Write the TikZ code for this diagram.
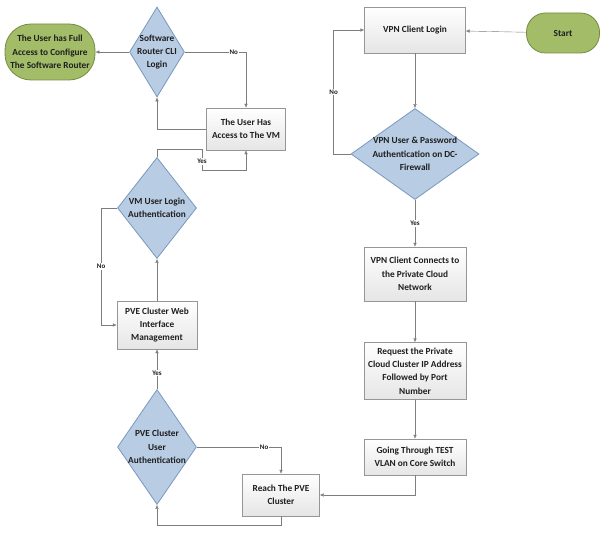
\documentclass[tikz,border=0pt]{standalone}
\usepackage{fontspec}
\setmainfont{Carlito}
\usepackage{xcolor}
\usepackage{tikz}
\usetikzlibrary{shapes.geometric,arrows.meta}
\definecolor{termfill}{RGB}{163, 188, 104}
\definecolor{termline}{RGB}{115, 140, 66}
\definecolor{decfill}{RGB}{184, 204, 228}
\definecolor{decline}{RGB}{120, 152, 190}
\definecolor{boxline}{RGB}{150, 150, 150}
\definecolor{flowline}{RGB}{125, 125, 125}

\tikzset{
  every node/.style={font=\fontsize{9.3}{13.3}\selectfont\bfseries, text=black!88},
  terminal/.style={draw=termline, fill=termfill, rounded corners=19pt, thick, align=center, inner sep=0pt},
  process/.style={draw=boxline, top color=white, bottom color=black!10, align=center, inner sep=0pt},
  decision/.style={diamond, draw=decline, fill=decfill, thick, inner sep=0pt},
  dectext/.style={align=center},
  flow/.style={draw=flowline, -{Latex[length=4pt,width=3.5pt]}},
  flowlabel/.style={fill=white, inner sep=1pt, font=\fontsize{7}{8}\selectfont\bfseries}
}

\begin{document}
\begin{tikzpicture}[x=1pt, y=-1pt]
  \useasboundingbox (0,0) rectangle (603,535);

  % Right column
  \node[terminal, minimum width=73pt, minimum height=40pt] (start) at (563,33) {Start};
  \node[process, minimum width=101pt, minimum height=46pt] (vpnlogin) at (415,30) {VPN Client Login};
  \node[decision, minimum width=128pt, minimum height=91pt,
        label={[dectext]center:VPN User \& Password\\Authentication on DC-\\Firewall}] (vpnauth) at (415,154) {};
  \node[process, minimum width=102pt, minimum height=54pt] (vpnconnect) at (415,274) {VPN Client Connects to\\the Private Cloud\\Network};
  \node[process, minimum width=102pt, minimum height=57pt] (request) at (415,371) {Request the Private\\Cloud Cluster IP Address\\Followed by Port\\Number};
  \node[process, minimum width=102pt, minimum height=36pt] (testvlan) at (415,457) {Going Through TEST\\VLAN on Core Switch};

  % Left column
  \node[process, minimum width=77pt, minimum height=42pt] (reachpve) at (281,495) {Reach The PVE\\Cluster};
  \node[decision, minimum width=79pt, minimum height=115pt,
        label={[dectext]center:PVE Cluster\\User\\Authentication}] (pveauth) at (157,447) {};
  \node[process, minimum width=80pt, minimum height=48pt] (pveweb) at (157,325) {PVE Cluster Web\\Interface\\Management};
  \node[decision, minimum width=79pt, minimum height=101pt,
        label={[dectext]center:VM User Login\\Authentication}] (vmauth) at (157,208) {};
  \node[process, minimum width=79pt, minimum height=42pt] (vmaccess) at (246,129) {The User Has\\Access to The VM};
  \node[decision, minimum width=55pt, minimum height=90pt,
        label={[dectext]center:Software\\Router CLI\\Login}] (cliauth) at (157,52) {};
  \node[terminal, minimum width=90pt, minimum height=56pt, rounded corners=26pt] (fullaccess) at (50,52) {The User has Full\\Access to Configure\\The Software Router};

  % Connectors
  \draw[flow] (start) -- (vpnlogin);
  \draw[flow] (vpnlogin) -- (vpnauth);
  \draw[flow] (vpnauth.west) -- ++(-17,0) |- (vpnlogin.west) node[flowlabel, pos=0.25]{No};
  \draw[flow] (vpnauth.south) -- (vpnconnect.north) node[flowlabel, midway]{Yes};
  \draw[flow] (vpnconnect) -- (request);
  \draw[flow] (request) -- (testvlan);
  \draw[flow] (testvlan.south) |- (reachpve.east);
  \draw[flow] (reachpve.south) -- ++(0,9) -| (pveauth.south);
  \draw[flow] (pveauth.east) -| (reachpve.north) node[flowlabel, pos=0.4]{No};
  \draw[flow] (pveauth.north) -- (pveweb.south) node[flowlabel, pos=0.4]{Yes};
  \draw[flow] (pveweb.north) -- (vmauth.south);
  \draw[flow] (vmauth.west) -- ++(-16,0) |- (pveweb.west) node[flowlabel, pos=0.25]{No};
  \draw[flow] (vmauth.north) -- ++(0,-8) -- ++(45,0) -- ++(0,21) node[flowlabel, pos=0.6]{Yes} -| (vmaccess.south);
  \draw[flow] (cliauth.east) -| (vmaccess.north) node[flowlabel, pos=0.4]{No};
  \draw[flow] (vmaccess.west) -| (cliauth.south);
  \draw[flow] (cliauth.west) -- (fullaccess.east);
\end{tikzpicture}
\end{document}
